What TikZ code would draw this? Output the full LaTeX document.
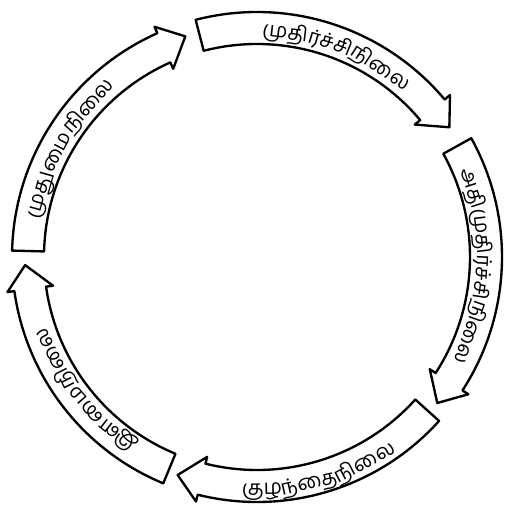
\documentclass[tikz,border=0pt]{standalone}
\usepackage{fontspec}
\newfontfamily\tamil[Script=Tamil]{Hind Madurai}
\usetikzlibrary{decorations.text}
\begin{document}
\begin{tikzpicture}[x=0.03cm,y=0.03cm]
	% Styles
	\tikzstyle{fleche}=[draw=black,fill=white,line width=2pt,line join=round]
	\tikzstyle{etiquette}=[decorate]
	% Dimensions
	\def\RExt{245}
	\def\RInt{213}
	\def\RPointe{232}
	\def\RBarbeExt{252}
	\def\RBarbeInt{206}
	\def\RBaseHaut{220}
	\def\RBaseBas{238}
	\def\Police{\tamil\fontsize{17.5}{20}\selectfont}
	% Cadre
	\useasboundingbox (-257,-248) rectangle (262,257);
	% Flèches
	\draw[fleche] (104.5:\RExt) arc[start angle=104.5,end angle=40,radius=\RExt] -- (40:\RBarbeExt) -- (34:\RPointe) -- (40:\RBarbeInt) -- (40:\RInt) arc[start angle=40,end angle=104.5,radius=\RInt] -- cycle;
	\draw[fleche] (29:\RExt) arc[start angle=29,end angle=-33,radius=\RExt] -- (-33:\RBarbeExt) -- (-39:\RPointe) -- (-33:\RBarbeInt) -- (-33:\RInt) arc[start angle=-33,end angle=29,radius=\RInt] -- cycle;
	\draw[fleche] (-42:\RExt) arc[start angle=-42,end angle=-104,radius=\RExt] -- (-104:\RBarbeExt) -- (-110:\RPointe) -- (-104:\RBarbeInt) -- (-104:\RInt) arc[start angle=-104,end angle=-42,radius=\RInt] -- cycle;
	\draw[fleche] (247.5:\RExt) arc[start angle=247.5,end angle=188,radius=\RExt] -- (188:\RBarbeExt) -- (182:\RPointe) -- (188:\RBarbeInt) -- (188:\RInt) arc[start angle=188,end angle=247.5,radius=\RInt] -- cycle;
	\draw[fleche] (178.5:\RExt) arc[start angle=178.5,end angle=114,radius=\RExt] -- (114:\RBarbeExt) -- (108:\RPointe) -- (114:\RBarbeInt) -- (114:\RInt) arc[start angle=114,end angle=178.5,radius=\RInt] -- cycle;
	% Textes
	\path[etiquette,decoration={text along path,text align=center,text={|\Police|{முதி}{ர்ச்}{சி}{நிலை}{}}}] (94:\RBaseHaut) arc[start angle=94,end angle=43,radius=\RBaseHaut];
	\path[etiquette,decoration={text along path,text align=center,text={|\Police|{அதி}{முதி}{ர்ச்}{சி}{நிலை}{}}}] (26:\RBaseHaut) arc[start angle=26,end angle=-31,radius=\RBaseHaut];
	\path[etiquette,decoration={text along path,text align=center,text={|\Police|{குழ}{ந்தை}{நிலை}{}}}] (-97:\RBaseBas) arc[start angle=-97,end angle=-51,radius=\RBaseBas];
	\path[etiquette,decoration={text along path,text align=center,text={|\Police|{இள}{மை}{நிலை}{}}}] (238:\RBaseHaut) arc[start angle=238,end angle=198,radius=\RBaseHaut];
	\path[etiquette,decoration={text along path,text align=center,text={|\Police|{முது}{மை}{நிலை}{}}}] (171:\RBaseHaut) arc[start angle=171,end angle=129,radius=\RBaseHaut];
\end{tikzpicture}
\end{document}
